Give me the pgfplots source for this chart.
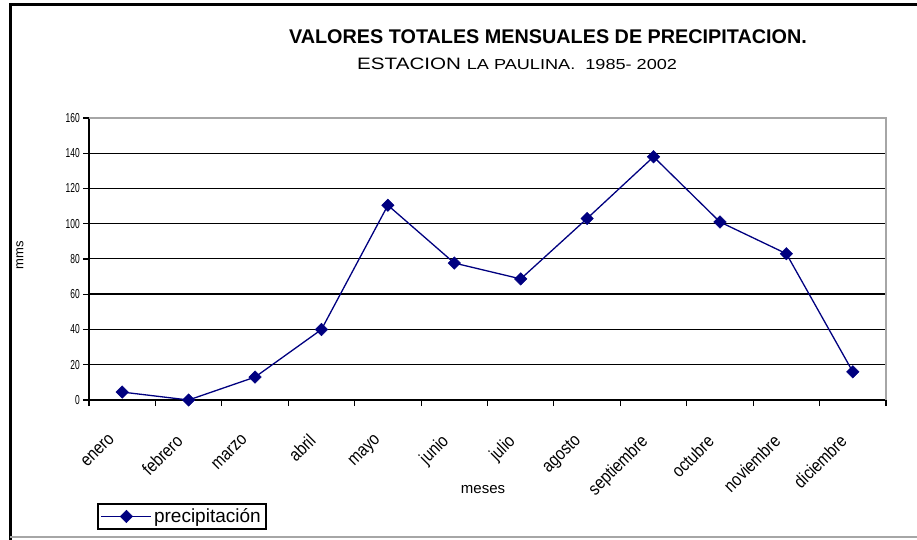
\documentclass[border=0pt]{standalone}
\usepackage{fontspec}
\setmainfont{Liberation Sans}
\newfontfamily\widefont{Liberation Sans}[FakeStretch=1.25]
\newfontfamily\narrowfont{Liberation Sans}[FakeStretch=0.65]
\newfontfamily\condfont{Liberation Sans}[FakeStretch=0.85]
\usepackage{pgfplots}
\pgfplotsset{compat=1.18}
\definecolor{navyline}{RGB}{0,0,128}
\begin{document}
\begin{tikzpicture}
\useasboundingbox (0bp,0bp) rectangle (917bp,540bp);
\fill[white] (0bp,0bp) rectangle (917bp,540bp);
\draw[black,line width=3bp] (10bp,0bp) -- (10bp,535bp) -- (917bp,535bp);
\draw[gray!70,line width=2bp] (10bp,3bp) -- (917bp,3bp);
\node[anchor=base,font=\bfseries\fontsize{19.8bp}{20bp}\selectfont] at (548bp,496bp) {VALORES TOTALES MENSUALES DE PRECIPITACION.};
\node[anchor=base west,inner sep=0] at (357bp,470bp) {\widefont\fontsize{16.5bp}{16bp}\selectfont ESTACION \fontsize{14.5bp}{14bp}\selectfont LA PAULINA.\ \ 1985- 2002};
\node[rotate=90,font=\fontsize{13bp}{13bp}\selectfont] at (20bp,285bp) {mms};
\node[font=\fontsize{15bp}{15bp}\selectfont] at (483bp,50bp) {meses};
\begin{axis}[
  at={(89bp,140bp)}, anchor=south west, scale only axis,
  width=797bp, height=282bp,
  xmin=0, xmax=12, ymin=0, ymax=160,
  clip=false,
  axis x line*=bottom, axis y line*=left,
  axis line style={black, line width=1.3bp, -},
  tick pos=left, tick align=outside,
  major tick length=6bp,
  tick style={black, line width=1.1bp},
  xtick={0,...,12},
  x tick label as interval,
  xticklabels={enero,febrero,marzo,abril,mayo,junio,julio,agosto,septiembre,octubre,noviembre,diciembre},
  xticklabel style={font=\condfont\fontsize{18bp}{18bp}\selectfont, inner sep=0pt, xshift=-14bp, yshift=-27bp, rotate=45, anchor=north east},
  ytick={0,20,...,160},
  yticklabel style={font=\narrowfont\fontsize{13bp}{13bp}\selectfont, inner sep=0pt, xshift=-3bp},
  /pgf/number format/assume math mode=true,
  ymajorgrids,
  grid style={black, line width=1bp},
  extra y ticks={40,60,120},
  extra y tick labels={},
  extra y tick style={grid style={black, line width=1.8bp}},
  legend style={at={(axis description cs:0.010,-0.461)}, anchor=south west, draw=black, line width=1.6bp, font=\fontsize{19bp}{19bp}\selectfont, inner sep=3bp, row sep=0pt},
  legend image code/.code={\draw[mark repeat=2,mark phase=2] plot coordinates {(0bp,0bp) (25bp,0bp) (50bp,0bp)};},
]
\draw[gray!70, line width=1.2bp] (rel axis cs:0,1) -- (rel axis cs:1,1) -- (rel axis cs:1,0);
\addplot[navyline, line width=1.3bp, mark=square*, mark size=4.4bp, mark options={fill=navyline, rotate=45, line width=0.5bp}]
  coordinates {(0.5,4.5) (1.5,0) (2.5,13) (3.5,40) (4.5,110.5) (5.5,77.7) (6.5,68.7) (7.5,103) (8.5,138) (9.5,101) (10.5,83) (11.5,16)};
\addlegendentry{precipitación}
\end{axis}
\end{tikzpicture}
\end{document}
